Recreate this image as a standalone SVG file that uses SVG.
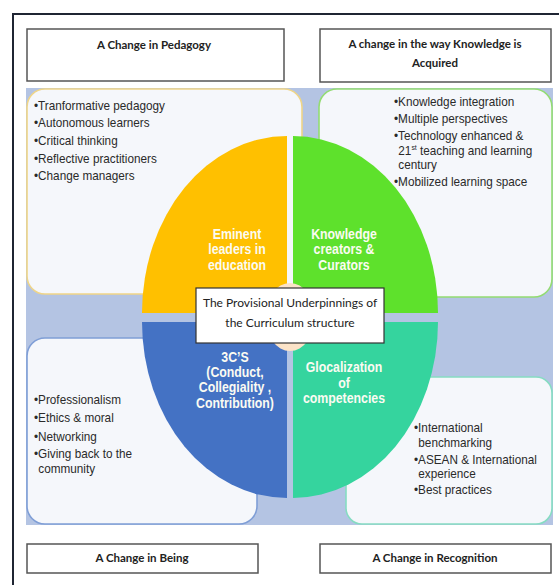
<svg xmlns="http://www.w3.org/2000/svg" width="559" height="585" viewBox="0 0 559 585">
<style>
.hdr{fill:#fff;stroke:#555;stroke-width:1.5}
.hdrt{font-family:Lato,"Open Sans",sans-serif;font-weight:bold;font-size:11.5px;fill:#222;text-anchor:middle}
.panel{fill:#f5f7fb;stroke-width:1.6}
.lst{font-family:"Liberation Sans",Arial,sans-serif;font-size:13.5px;fill:#2a2a2a}
.ql{font-family:"Liberation Sans",Arial,sans-serif;font-weight:bold;font-size:14.5px;fill:#fbfbf2;text-anchor:middle}
.ct{font-family:Lato,"Open Sans",sans-serif;font-size:12px;fill:#222;text-anchor:middle}
</style>
<rect x="0" y="0" width="559" height="585" fill="#ffffff"/>
<path d="M13,585 L13,14 L559,14" fill="none" stroke="#1f2533" stroke-width="2"/>
<rect x="26" y="88" width="527" height="437" fill="#b4c4e3"/>

<g id="panel-pedagogy">
<rect class="panel" x="27" y="89" width="275" height="205" rx="18" stroke="#efd588"/>
<g transform="translate(34,0) scale(0.87,1)">
<text class="lst" x="0" y="110">•Tranformative pedagogy</text>
<text class="lst" x="0" y="127">•Autonomous learners</text>
<text class="lst" x="0" y="145">•Critical thinking</text>
<text class="lst" x="0" y="163">•Reflective practitioners</text>
<text class="lst" x="0" y="180">•Change managers</text>
</g>
</g>
<g id="panel-knowledge">
<rect class="panel" x="319" y="89" width="233" height="208" rx="18" stroke="#93dc72"/>
<g transform="translate(394,0) scale(0.87,1)">
<text class="lst" x="0" y="106">•Knowledge integration</text>
<text class="lst" x="0" y="123">•Multiple perspectives</text>
<text class="lst" x="0" y="140">•Technology enhanced &amp;</text>
<text class="lst" x="5" y="155">21<tspan font-size="8" dy="-5">st</tspan><tspan dy="5"> teaching and learning</tspan></text>
<text class="lst" x="5" y="169">century</text>
<text class="lst" x="0" y="186">•Mobilized learning space</text>
</g>
</g>
<g id="panel-being">
<rect class="panel" x="27" y="338" width="230" height="186" rx="18" stroke="#7f9ed6"/>
<g transform="translate(34,0) scale(0.87,1)">
<text class="lst" x="0" y="404">•Professionalism</text>
<text class="lst" x="0" y="422">•Ethics &amp; moral</text>
<text class="lst" x="0" y="441">•Networking</text>
<text class="lst" x="0" y="458">•Giving back to the</text>
<text class="lst" x="5" y="473">community</text>
</g>
</g>
<g id="panel-recognition">
<rect class="panel" x="346" y="377" width="206" height="147" rx="16" stroke="#86dcc2"/>
<g transform="translate(414,0) scale(0.87,1)">
<text class="lst" x="0" y="432">•International</text>
<text class="lst" x="5" y="447">benchmarking</text>
<text class="lst" x="0" y="464">•ASEAN &amp; International</text>
<text class="lst" x="5" y="478">experience</text>
<text class="lst" x="0" y="494">•Best practices</text>
</g>
</g>

<g id="q-eminent">
<path d="M287,313 L142,313 A145,177 0 0 1 287,136 Z" fill="#ffc000"/>
<g transform="translate(237,0) scale(0.85,1)">
<text class="ql" x="0" y="239">Eminent</text>
<text class="ql" x="0" y="254">leaders in</text>
<text class="ql" x="0" y="270">education</text>
</g>
</g>
<g id="q-knowledge">
<path d="M293,313 L293,136 A145,177 0 0 1 438,313 Z" fill="#5ee12c"/>
<g transform="translate(344,0) scale(0.85,1)">
<text class="ql" x="0" y="239">Knowledge</text>
<text class="ql" x="0" y="254">creators &amp;</text>
<text class="ql" x="0" y="270">Curators</text>
</g>
</g>
<g id="q-3cs">
<path d="M287,322 L287,498 A145,176 0 0 1 142,322 Z" fill="#4472c4"/>
<g transform="translate(235,0) scale(0.85,1)">
<text class="ql" x="0" y="362">3C’S</text>
<text class="ql" x="0" y="377">(Conduct,</text>
<text class="ql" x="0" y="392">Collegiality ,</text>
<text class="ql" x="0" y="408">Contribution)</text>
</g>
</g>
<g id="q-glocal">
<path d="M293,322 L438,322 A145,176 0 0 1 293,498 Z" fill="#35d49e"/>
<g transform="translate(344,0) scale(0.85,1)">
<text class="ql" x="0" y="372">Glocalization</text>
<text class="ql" x="0" y="388">of</text>
<text class="ql" x="0" y="403">competencies</text>
</g>
</g>

<g id="center">
<ellipse cx="290" cy="317" rx="25" ry="34" fill="#fbe3c8"/>
<rect x="196" y="288" width="188" height="55" fill="#ffffff" stroke="#333" stroke-width="1.2"/>
<text class="ct" x="290" y="307">The Provisional Underpinnings of</text>
<text class="ct" x="290" y="327">the Curriculum structure</text>
</g>

<g id="hdr-pedagogy">
<rect class="hdr" x="27" y="29" width="257" height="52"/>
<text class="hdrt" x="154" y="49">A Change in Pedagogy</text>
</g>
<g id="hdr-knowledge">
<rect class="hdr" x="320" y="29" width="231" height="53"/>
<text class="hdrt" x="435" y="48">A change in the way Knowledge is</text>
<text class="hdrt" x="435" y="67">Acquired</text>
</g>
<g id="hdr-being">
<rect class="hdr" x="27" y="544" width="231" height="29"/>
<text class="hdrt" x="142" y="562">A Change in Being</text>
</g>
<g id="hdr-recognition">
<rect class="hdr" x="320" y="544" width="231" height="29"/>
<text class="hdrt" x="435" y="562">A Change in Recognition</text>
</g>
</svg>
